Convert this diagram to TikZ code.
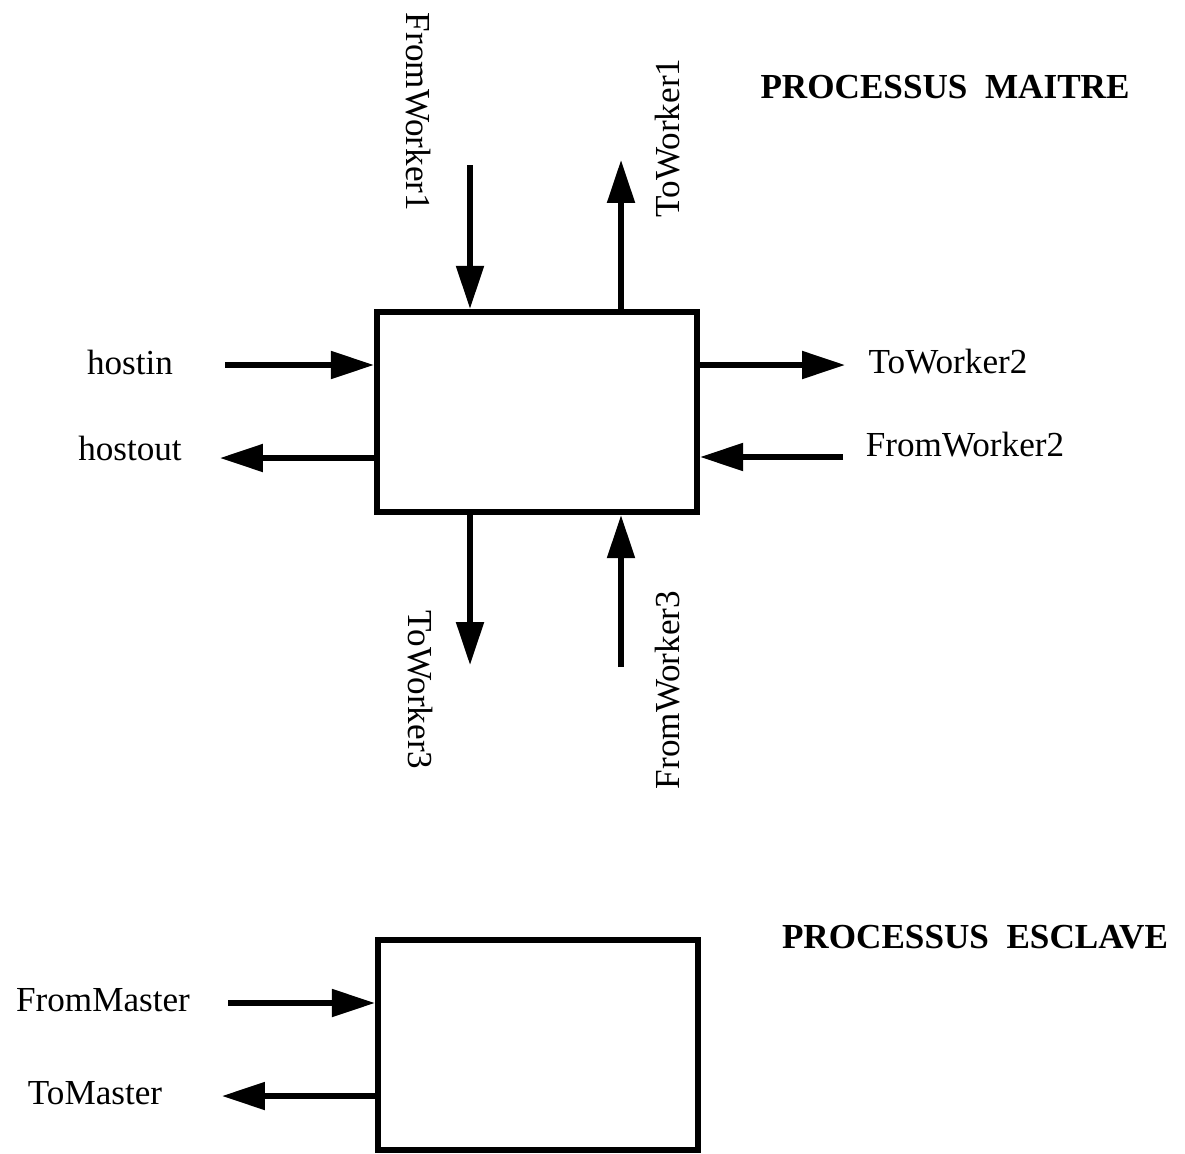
\documentclass[tikz,border=0pt]{standalone}
\usepackage{fontspec}
\setmainfont{Liberation Serif}
\usetikzlibrary{arrows.meta}
\tikzset{
  proc/.style = {draw, line width=3.6pt, minimum width=6.4cm, minimum height=4cm},
  chan/.style = {line width=3pt, -{Triangle[length=0.86cm, width=0.54cm]}},
  lbl/.style = {font=\fontsize{20}{24}\selectfont, inner sep=0pt},
  ttl/.style = {font=\fontsize{20}{24}\selectfont\bfseries, inner sep=0pt}
}
\begin{document}
\begin{tikzpicture}[x=0.02cm, y=-0.02cm]
    \useasboundingbox (0, 0) rectangle (1185, 1153);
    \node [proc] (master) at (537, 412) {};
    \node [proc, minimum height=4.2cm] (slave) at (538, 1045) {};
    \coordinate (fw1) at (470, 165);
    \coordinate (tw1) at (621, 160);
    \coordinate (hin) at (225, 365);
    \coordinate (hout) at (220, 458);
    \coordinate (tw2) at (845, 365);
    \coordinate (fw2) at (843, 457);
    \coordinate (tw3) at (470, 665);
    \coordinate (fw3) at (621, 667);
    \coordinate (fm) at (228, 1003);
    \coordinate (tm) at (222, 1096);
    \draw [chan] (fw1) -- (fw1 |- master.north);
    \draw [chan] (tw1 |- master.north) -- (tw1);
    \draw [chan] (hin) -- (hin -| master.west);
    \draw [chan] (hout -| master.west) -- (hout);
    \draw [chan] (tw2 -| master.east) -- (tw2);
    \draw [chan] (fw2) -- (fw2 -| master.east);
    \draw [chan] (tw3 |- master.south) -- (tw3);
    \draw [chan] (fw3) -- (fw3 |- master.south);
    \draw [chan] (fm) -- (fm -| slave.west);
    \draw [chan] (tm -| slave.west) -- (tm);
    \node [lbl, rotate=-90] (lfw1) at (418, 112) {FromWorker1};
    \node [lbl, rotate=90] (ltw1) at (668, 138) {ToWorker1};
    \node [lbl] (lhin) at (130, 362) {hostin};
    \node [lbl] (lhout) at (130, 448) {hostout};
    \node [lbl] (ltw2) at (948, 362) {ToWorker2};
    \node [lbl] (lfw2) at (965, 445) {FromWorker2};
    \node [lbl, rotate=-90] (ltw3) at (420, 690) {ToWorker3};
    \node [lbl, rotate=90] (lfw3) at (668, 690) {FromWorker3};
    \node [lbl] (lfm) at (103, 1000) {FromMaster};
    \node [lbl] (ltm) at (95, 1093) {ToMaster};
    \node [ttl] (tmaster) at (945, 87) {PROCESSUS\ \ MAITRE};
    \node [ttl] (tslave) at (975, 937) {PROCESSUS\ \ ESCLAVE};
\end{tikzpicture}
\end{document}
